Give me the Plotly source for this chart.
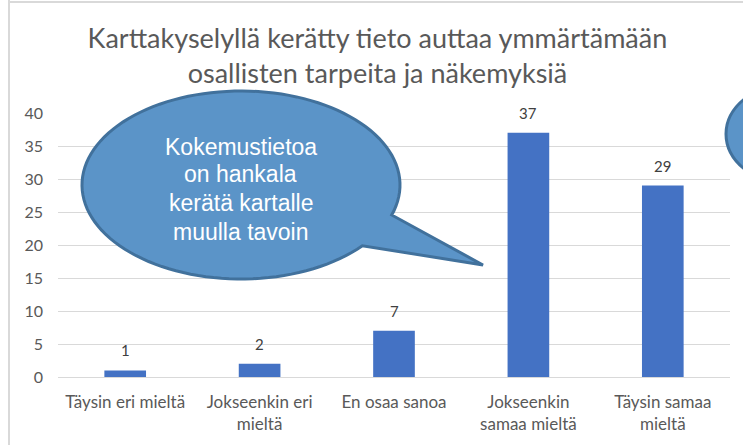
import numpy as np
import plotly.graph_objects as go

categories = ["Täysin eri mieltä", "Jokseenkin eri<br>mieltä", "En osaa sanoa",
              "Jokseenkin<br>samaa mieltä", "Täysin samaa<br>mieltä"]
values = [1, 2, 7, 37, 29]
y_ticks = [0, 5, 10, 15, 20, 25, 30, 35, 40]
title_text = "Karttakyselyllä kerätty tieto auttaa ymmärtämään<br>osallisten tarpeita ja näkemyksiä"
callout_lines = ["Kokemustietoa", "on hankala", "kerätä kartalle", "muulla tavoin"]

W, H = 743, 445
L, R, T, B = 58, 13, 113, 68
PW, PH = W - L - R, H - T - B

def px(x):
    return (x - L) / PW

def py(y):
    return (H - B - y) / PH

fig = go.Figure()
fig.add_trace(go.Bar(
    x=categories, y=values, marker_color="#4472C4", marker_line_width=0,
    width=0.31, hoverinfo="skip",
))

# callout bubble path (pixel geometry converted to paper coordinates)
cx, cy, rx, ry = 241, 185, 159, 94
t1 = np.arctan2((215 - cy) / ry, (392 - cx) / rx)
t2 = np.arctan2((246 - cy) / ry, (363 - cx) / rx)
ts = np.linspace(t2, t1 + 2 * np.pi, 120)
pts = [(cx + rx * np.cos(t), cy + ry * np.sin(t)) for t in ts]
pts.append((483, 265))
path = "M " + " L ".join(f"{px(a):.5f},{py(b):.5f}" for a, b in pts) + " Z"

shapes = [
    dict(type="path", xref="paper", yref="paper", path=path,
         fillcolor="#5B94C8", line=dict(color="#41719C", width=3), layer="above"),
    dict(type="circle", xref="paper", yref="paper",
         x0=px(726), x1=px(880), y0=py(80), y1=py(188),
         fillcolor="#5B94C8", line=dict(color="#41719C", width=3), layer="above"),
    dict(type="line", xref="paper", yref="paper", x0=px(9), x1=px(9), y0=py(0), y1=py(445),
         line=dict(color="#D9D9D9", width=2)),
    dict(type="line", xref="paper", yref="paper", x0=px(9), x1=px(743), y0=py(2), y1=py(2),
         line=dict(color="#D9D9D9", width=2)),
]

# data labels above bars
annotations = [dict(text=str(v), x=c, y=v, xref="x", yref="y", yshift=20,
                    xanchor="center", yanchor="middle", showarrow=False,
                    font=dict(family="Lato", size=15, color="#404040"))
               for c, v in zip(categories, values)]

line_y = [147, 174, 203, 232]
annotations += [dict(text=t, xref="paper", yref="paper", x=px(241), y=py(yy),
                     xanchor="center", yanchor="middle", showarrow=False,
                     font=dict(family="Liberation Sans", size=23, color="white"))
                for t, yy in zip(callout_lines, line_y)]

fig.update_layout(
    width=W, height=H,
    margin=dict(l=L, r=R, t=T, b=B, autoexpand=False),
    paper_bgcolor="white", plot_bgcolor="white",
    showlegend=False, bargap=0.69,
    title=dict(text=title_text, x=0.508, xanchor="center", y=1 - 48 / H, yanchor="middle",
               font=dict(family="Lato", size=27, color="#595959")),
    shapes=shapes,
    annotations=annotations,
    font=dict(family="Lato", color="#595959"),
)
fig.update_yaxes(range=[0, 40], tickvals=y_ticks, showgrid=True, gridcolor="#D9D9D9",
                 gridwidth=1, zeroline=True, zerolinecolor="#D9D9D9", zerolinewidth=1,
                 tickfont=dict(size=16, color="#595959", family="Lato"), ticks="",
                 showline=False, automargin=False, ticklabelstandoff=14)
fig.update_xaxes(tickfont=dict(size=17, color="#595959", family="Lato"), showline=False,
                 ticks="", ticklabelstandoff=13, automargin=False)
fig.write_html("out.html", config={"displayModeBar": False},
               post_script="document.body.style.margin='0';")
